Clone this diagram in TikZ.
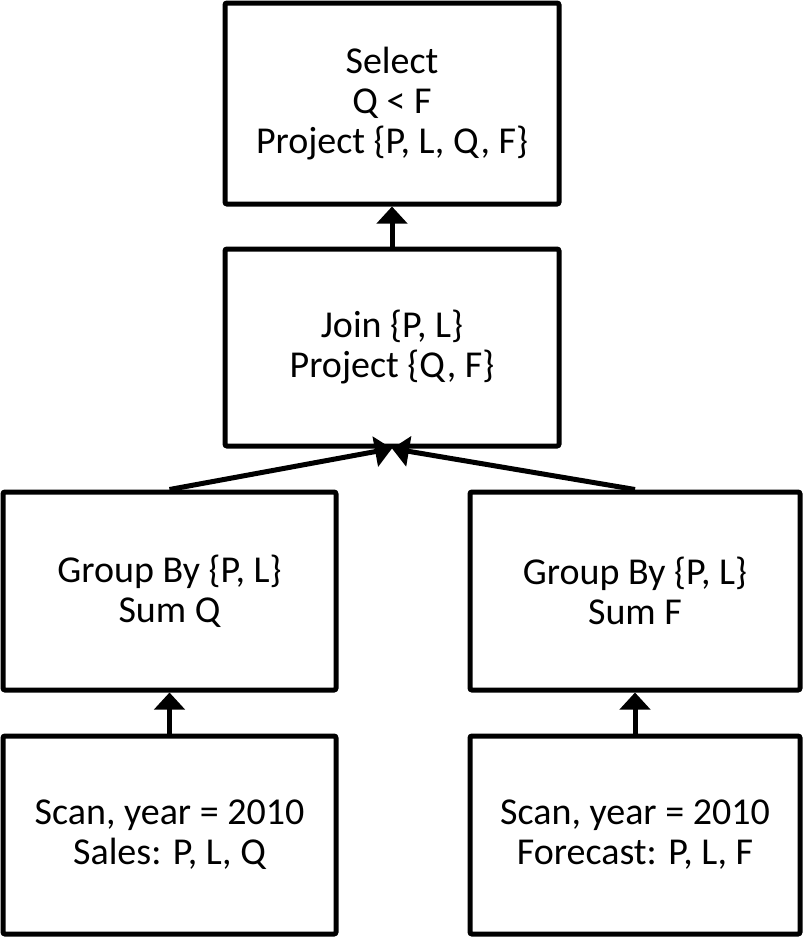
\documentclass[tikz,border=0pt]{standalone}
\usepackage{fontspec}
\setmainfont{Carlito}
\usetikzlibrary{arrows.meta}
\begin{document}
\begin{tikzpicture}[x=1pt,y=-1pt,
  opbox/.style={draw=black,line width=5pt,rounded corners=2pt,fill=white,
    align=center,inner sep=0pt,font=\fontsize{38}{40}\selectfont},
  flow/.style={line width=5pt,-{Triangle[width=30pt,length=17pt]}}]
  \useasboundingbox (0,0) rectangle (803,938);
  % operator boxes of the query plan
  \node[opbox,minimum width=334pt,minimum height=201pt] (sel) at (392,103.5)
    {Select\\Q < F\\Project \{P, L, Q, F\}};
  \node[opbox,minimum width=334pt,minimum height=197pt] (join) at (392,347.5)
    {Join \{P, L\}\\Project \{Q, F\}};
  \node[opbox,minimum width=333pt,minimum height=198pt] (grpL) at (169.5,591)
    {Group By \{P, L\}\\Sum Q};
  \node[opbox,minimum width=330pt,minimum height=198pt] (grpR) at (635,591)
    {Group By \{P, L\}\\Sum F};
  \node[opbox,minimum width=333pt,minimum height=198pt] (scanL) at (169.5,835)
    {Scan, year = 2010\\Sales: P, L, Q};
  \node[opbox,minimum width=330pt,minimum height=198pt] (scanR) at (635,835)
    {Scan, year = 2010\\Forecast: P, L, F};
  % data flow upward
  \draw[flow] (join.north) -- (sel.south);
  \draw[flow] (grpL.north) -- (join.south);
  \draw[flow] (grpR.north) -- (join.south);
  \draw[flow] (scanL.north) -- (grpL.south);
  \draw[flow] (scanR.north) -- (grpR.south);
\end{tikzpicture}
\end{document}
